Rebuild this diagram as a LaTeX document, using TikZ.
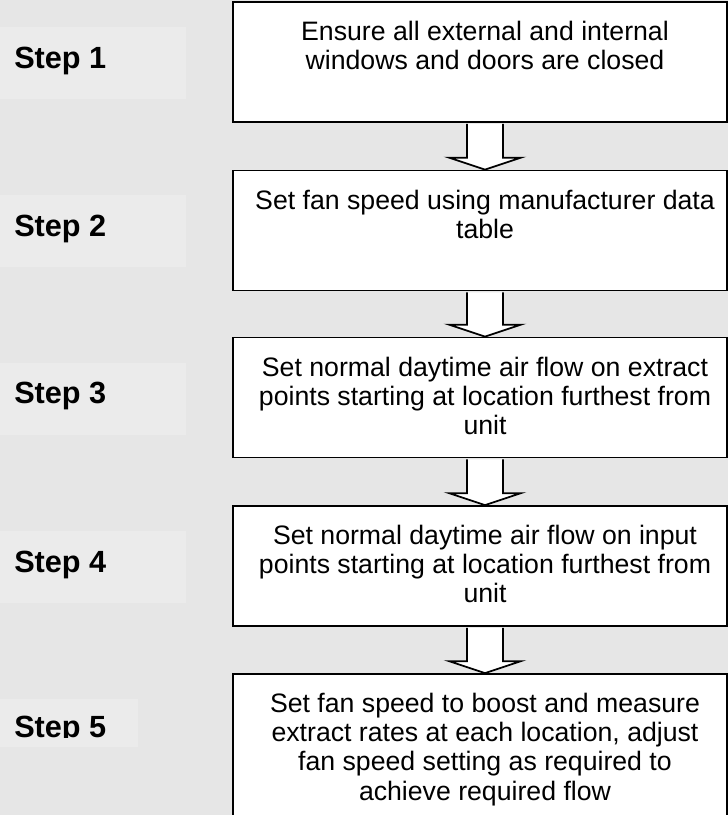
\documentclass[tikz,border=0pt]{standalone}
\usepackage{fontspec}
\setmainfont{Liberation Sans}
\usetikzlibrary{calc}
\definecolor{pagegray}{RGB}{230,230,230}
\definecolor{labelgray}{RGB}{235,235,235}

\begin{document}
\begin{tikzpicture}[x=0.75pt,y=0.75pt,yscale=-1,xscale=1,
    flowbox/.style={draw, line width=1.3pt, fill=white, inner sep=0pt, minimum width=370.5pt, minimum height=90pt},
    boxtext/.style={anchor=north, align=center, inner sep=0pt, font=\fontsize{20}{22}\selectfont},
    labelbox/.style={fill=labelgray, inner sep=0pt, minimum width=139.5pt, minimum height=54pt},
    labeltext/.style={anchor=base west, inner sep=0pt, font=\fontsize{23}{27}\selectfont\bfseries},
    flowarrow/.style={draw, line width=1.3pt, fill=white}]
        \useasboundingbox (0,0) rectangle (728,815);
        \clip (0,0) rectangle (728,815);
        \fill [pagegray] (0,0) rectangle (728,815);
        \node [labelbox] (l1) at (93,63) {};
        \node [labelbox] (l2) at (93,231) {};
        \node [labelbox] (l3) at (93,398.5) {};
        \node [labelbox] (l4) at (93,566.5) {};
        \node [labelbox, minimum width=103.5pt, minimum height=36pt] (l5) at (69,723) {};
        \node [labeltext] (s1) at (14,68) {Step 1};
        \node [labeltext] (s2) at (14,236) {Step 2};
        \node [labeltext] (s3) at (14,403) {Step 3};
        \node [labeltext] (s4) at (14,572) {Step 4};
        \begin{scope}
        \clip (0,699) rectangle (138,737.5);
        \node [labeltext] (s5) at (14,737) {Step 5};
        \end{scope}
        \node [flowbox] (b1) at (480,62) {};
        \node [flowbox] (b2) at (480,230.5) {};
        \node [flowbox] (b3) at (480,397.5) {};
        \node [flowbox] (b4) at (480,566) {};
        \node [flowbox, minimum height=120pt] (b5) at (480,754) {};
        \node [boxtext] (t1) at (485,20.5) {Ensure all external and internal\\windows and doors are closed};
        \node [boxtext] (t2) at (485,189.5) {Set fan speed using manufacturer data\\table};
        \node [boxtext] (t3) at (485,356.5) {Set normal daytime air flow on extract\\points starting at location furthest from\\unit};
        \node [boxtext] (t4) at (485,524.5) {Set normal daytime air flow on input\\points starting at location furthest from\\unit};
        \node [boxtext] (t5) at (485,692.5) {Set fan speed to boost and measure\\extract rates at each location, adjust\\fan speed setting as required to\\achieve required flow};
        \draw [flowarrow] ($(b1.south -| t1)+(-18,1)$) -- ($(b2.north -| t2)+(-18,-12)$) -- ($(b2.north -| t2)+(-36,-12)$) -- (b2.north -| t2) -- ($(b2.north -| t2)+(36,-12)$) -- ($(b2.north -| t2)+(18,-12)$) -- ($(b1.south -| t1)+(18,1)$);
        \draw [flowarrow] ($(b2.south -| t2)+(-18,1)$) -- ($(b3.north -| t3)+(-18,-12)$) -- ($(b3.north -| t3)+(-36,-12)$) -- (b3.north -| t3) -- ($(b3.north -| t3)+(36,-12)$) -- ($(b3.north -| t3)+(18,-12)$) -- ($(b2.south -| t2)+(18,1)$);
        \draw [flowarrow] ($(b3.south -| t3)+(-18,1)$) -- ($(b4.north -| t4)+(-18,-12)$) -- ($(b4.north -| t4)+(-36,-12)$) -- (b4.north -| t4) -- ($(b4.north -| t4)+(36,-12)$) -- ($(b4.north -| t4)+(18,-12)$) -- ($(b3.south -| t3)+(18,1)$);
        \draw [flowarrow] ($(b4.south -| t4)+(-18,1)$) -- ($(b5.north -| t5)+(-18,-12)$) -- ($(b5.north -| t5)+(-36,-12)$) -- (b5.north -| t5) -- ($(b5.north -| t5)+(36,-12)$) -- ($(b5.north -| t5)+(18,-12)$) -- ($(b4.south -| t4)+(18,1)$);
\end{tikzpicture}
\end{document}
